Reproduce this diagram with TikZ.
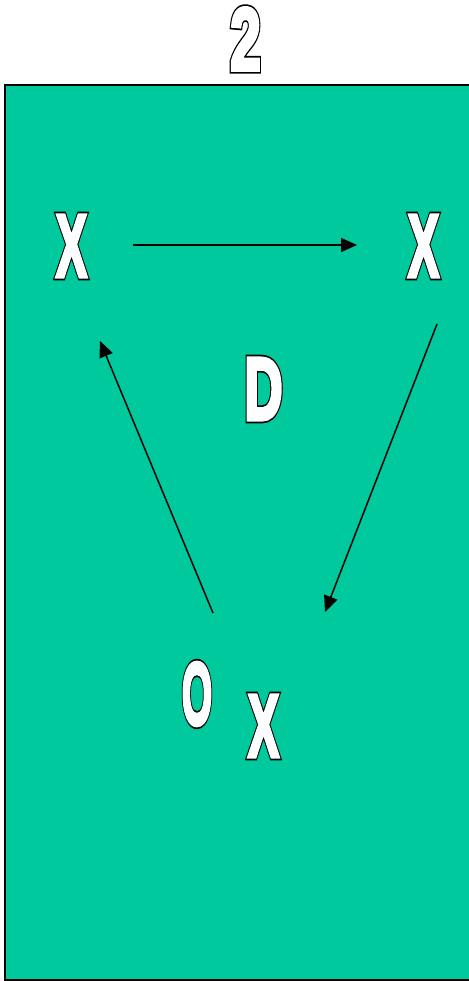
\documentclass[tikz,border=0pt]{standalone}
\usepackage{fontspec}
\setmainfont{Liberation Sans}
\usetikzlibrary{arrows.meta}
\definecolor{pitch}{RGB}{0,201,157}
% white letters with a black rim, narrowed
\newcommand{\rimtext}[2]{\scalebox{#1}[1]{%
  \rlap{\special{pdf:code q 2 Tr 8 w 0 G 0 g}#2\special{pdf:code Q}}%
  \special{pdf:code q 2 Tr 4.5 w 1 G 1 g}#2\special{pdf:code Q}}}
\tikzset{
  mark letter/.style={inner sep=0pt, text=white, font=\bfseries\fontsize{88}{88}\selectfont},
  run/.style={line width=1.5pt, -{Triangle[length=16pt,width=14pt]}}
}
\begin{document}
\begin{tikzpicture}[x=1pt,y=-1pt]
  \useasboundingbox (0,0) rectangle (468,981);
  % pitch
  \fill[pitch] (5,85) rectangle (472,980);
  \draw[line width=1.6pt] (472,85) -- (5,85) -- (5,980) -- (472,980);
  % labels
  \node[mark letter] (num) at (245.5,39) {\rimtext{0.62}{2}};
  \node[mark letter] (xa) at (71.5,246) {\rimtext{0.52}{X}};
  \node[mark letter] (xb) at (423.5,246) {\rimtext{0.52}{X}};
  \node[mark letter] (def) at (263.5,389) {\rimtext{0.6}{D}};
  \node[mark letter] (ball) at (197,694) {\rimtext{0.44}{O}};
  \node[mark letter] (xc) at (263.5,726) {\rimtext{0.52}{X}};
  % runs
  \coordinate (ra) at (133,245);
  \coordinate (rb) at (357,245);
  \coordinate (rc) at (437,324);
  \coordinate (rd) at (325,612);
  \coordinate (re) at (213,613);
  \coordinate (rf) at (100,341);
  \draw[run] (ra) -- (rb);
  \draw[run] (rc) -- (rd);
  \draw[run] (re) -- (rf);
\end{tikzpicture}
\end{document}
